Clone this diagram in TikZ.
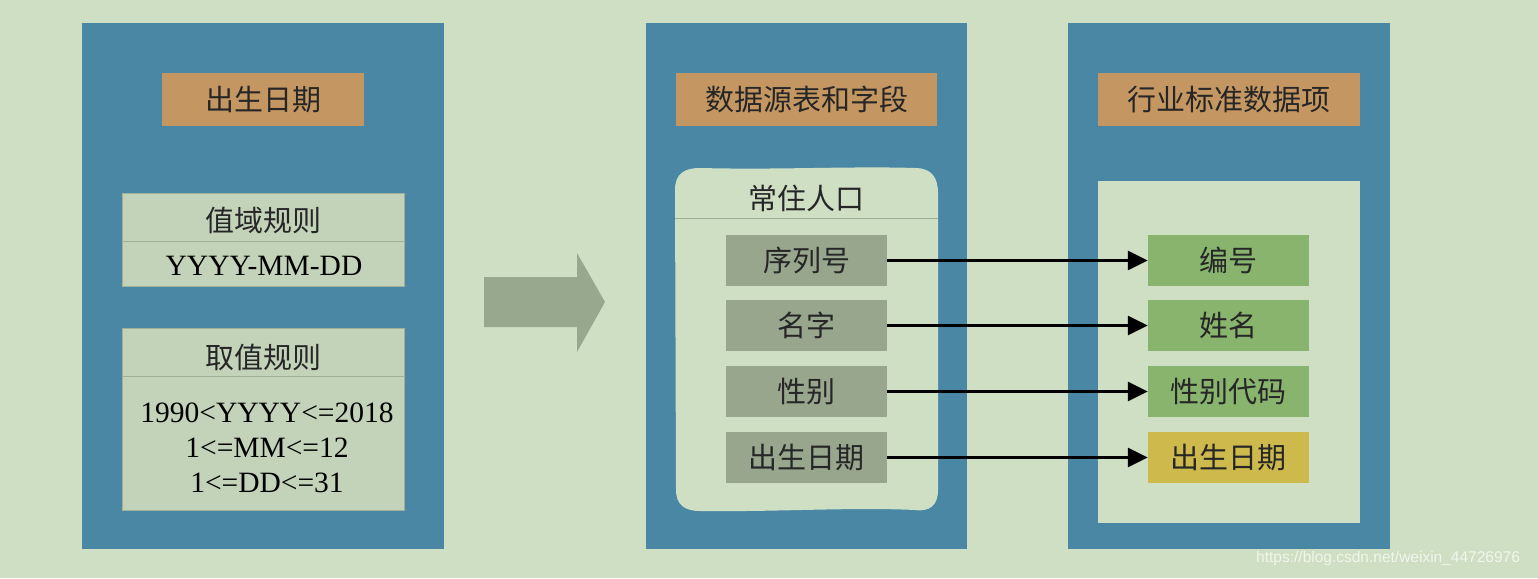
\documentclass[tikz,border=0pt]{standalone}
\usepackage{fontspec}
\setmainfont{Liberation Serif}
\newfontfamily\cjk{Noto Sans CJK SC}
\newfontfamily\wmfont{Liberation Sans}
\usetikzlibrary{arrows.meta}
\definecolor{bg}{RGB}{207,223,196}
\definecolor{panelblue}{RGB}{74,135,165}
\definecolor{hdrorange}{RGB}{196,151,98}
\definecolor{rulebox}{RGB}{195,211,186}
\definecolor{ruleline}{RGB}{160,176,150}
\definecolor{graybox}{RGB}{152,166,142}
\definecolor{greenbox}{RGB}{136,180,110}
\definecolor{yellowbox}{RGB}{205,185,76}
\definecolor{bigarrow}{RGB}{152,168,143}
\definecolor{docfill}{RGB}{207,223,196}
\tikzset{
  cjkfont/.style={font=\cjk\fontsize{29}{32}\selectfont, text=black!85},
  panel/.style={fill=panelblue, draw=none, minimum width=#1, minimum height=526pt, inner sep=0pt},
  hdr/.style={fill=hdrorange, minimum width=#1, minimum height=53pt, inner sep=0pt, cjkfont},
  rulebox/.style={fill=rulebox, draw=ruleline, line width=0.6pt, inner sep=0pt},
  field/.style={fill=graybox, minimum width=161pt, minimum height=51pt, inner sep=0pt, cjkfont},
  std/.style={fill=greenbox, minimum width=161pt, minimum height=51pt, inner sep=0pt, cjkfont},
  cjktxt/.style={cjkfont, inner sep=0pt},
  lattxt/.style={font=\fontsize{29.5}{35}\selectfont, text=black, inner sep=0pt, align=center},
  link/.style={line width=3pt, -{Triangle[length=20pt,width=19pt]}}
}
\begin{document}
\begin{tikzpicture}[x=1pt,y=-1pt]
\useasboundingbox (0,0) rectangle (1538,578);
\fill[bg] (0,0) rectangle (1538,578);
% panels
\node[panel=362pt] (pL) at (263,286) {};
\node[panel=321pt] (pM) at (806.5,286) {};
\node[panel=322pt] (pR) at (1229,286) {};
% headers
\node[hdr=202pt] (hL) at (263,99.5) {出生日期};
\node[hdr=261pt] (hM) at (806.5,99.5) {数据源表和字段};
\node[hdr=262pt] (hR) at (1229,99.5) {行业标准数据项};
% left rule boxes
\node[rulebox, minimum width=282pt, minimum height=93pt] (r1) at (263,239.5) {};
\draw[ruleline, line width=0.8pt] (r1.west |- 0,241) -- (r1.east |- 0,241);
\node[cjktxt] (r1t) at (263,220) {值域规则};
\node[lattxt] (r1v) at (264,266) {YYYY-MM-DD};
\node[rulebox, minimum width=282pt, minimum height=182pt] (r2) at (263,419) {};
\draw[ruleline, line width=0.8pt] (r2.west |- 0,376) -- (r2.east |- 0,376);
\node[cjktxt] (r2t) at (263,357) {取值规则};
\node[lattxt] (r2v) at (267,448) {1990<YYYY<=2018\\1<=MM<=12\\1<=DD<=31};
% big arrow
\fill[bigarrow] (484,277) -- (577,277) -- (577,253) -- (605,302) -- (577,352) -- (577,327) -- (484,327) -- cycle;
% document shape
\filldraw[fill=docfill, draw=none] (675,190) .. controls (675,174) and (684,168) .. (700,168)
  .. controls (780,170) and (850,166) .. (915,168)
  .. controls (932,168) and (938,178) .. (938,193) -- (938,490)
  .. controls (938,505) and (930,512) .. (915,510)
  .. controls (850,507) and (780,512) .. (700,511)
  .. controls (685,511) and (676,505) .. (676,490) -- cycle;
\draw[ruleline, line width=0.8pt] (675,218) -- (938,218);
\node[cjktxt] (doct) at (806.5,198) {常住人口};
% fields
\node[field] (f1) at (806.5,260.5) {序列号};
\node[field] (f2) at (806.5,325.5) {名字};
\node[field] (f3) at (806.5,391.5) {性别};
\node[field] (f4) at (806.5,457.5) {出生日期};
% right inner box
\fill[docfill] (1098,181) rectangle (1360,523);
\node[std] (s1) at (1228.5,260.5) {编号};
\node[std] (s2) at (1228.5,325.5) {姓名};
\node[std] (s3) at (1228.5,391.5) {性别代码};
\node[std, fill=yellowbox] (s4) at (1228.5,457.5) {出生日期};
% links
\draw[link] (f1.east) -- (s1.west);
\draw[link] (f2.east) -- (s2.west);
\draw[link] (f3.east) -- (s3.west);
\draw[link] (f4.east) -- (s4.west);
% watermark
\node[font=\wmfont\fontsize{15.5}{17}\selectfont, text=white, opacity=0.7, anchor=west, inner sep=0pt] (wm) at (1256,558) {https://blog.csdn.net/weixin\_44726976};
\end{tikzpicture}
\end{document}
